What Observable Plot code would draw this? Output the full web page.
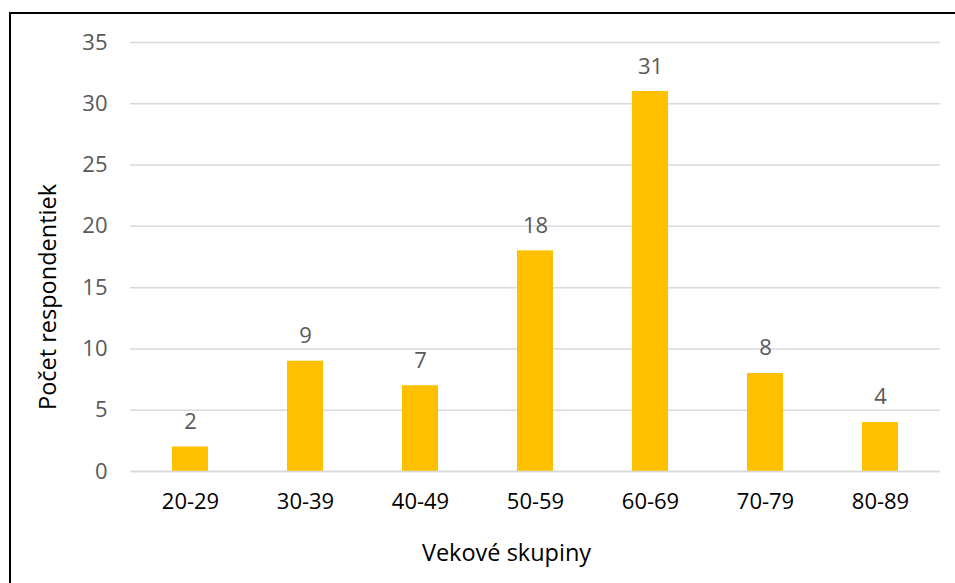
<!DOCTYPE html>
<html>
<head>
<meta charset="utf-8">
<script src="https://cdn.jsdelivr.net/npm/d3@7"></script>
<script src="https://cdn.jsdelivr.net/npm/@observablehq/plot@0.6"></script>
<style>
  html, body { margin: 0; padding: 0; background: #fff; }
  #wrap { position: relative; width: 955px; height: 583px; overflow: hidden; }
  #border { position: absolute; left: 9px; top: 12px; width: 2000px; height: 2000px;
            border-left: 2px solid #000; border-top: 2px solid #000; box-sizing: border-box; }
  #chart { position: absolute; left: 0; top: 0; }
</style>
</head>
<body>
<div id="wrap"><div id="border"></div><div id="chart"></div></div>
<script>
const categories = ["20-29", "30-39", "40-49", "50-59", "60-69", "70-79", "80-89"];
const counts = [2, 9, 7, 18, 31, 8, 4];
const yTicks = [0, 5, 10, 15, 20, 25, 30, 35];
const xTitle = "Vekové skupiny";
const yTitle = "Počet respondentiek";

const data = categories.map((c, i) => ({ group: c, count: counts[i] }));
const font = "'Open Sans', sans-serif";

const chart = Plot.plot({
  width: 955,
  height: 583,
  marginLeft: 130,
  marginRight: 15,
  marginTop: 42,
  marginBottom: 112,
  style: { fontFamily: font, fontSize: "22px", background: "transparent", overflow: "visible" },
  x: { domain: categories, paddingInner: 0.69, paddingOuter: 0.345, label: null },
  y: { domain: [0, 35], ticks: yTicks, label: null },
  marks: [
    Plot.gridY(yTicks, { stroke: "#d9d9d9", strokeOpacity: 1, strokeWidth: 1.5 }),
    Plot.barY(data, { x: "group", y: "count", fill: "#FFC000" }),
    Plot.ruleY([0], { stroke: "#d9d9d9", strokeWidth: 1.5 }),
    Plot.text(data, { x: "group", y: "count", text: d => String(d.count), lineAnchor: "bottom", dy: -18, fill: "#595959", fontSize: 22 }),
    Plot.axisY(yTicks, { tickSize: 0, tickPadding: 23, fill: "#595959", fontSize: 22, label: null }),
    Plot.axisX({ tickSize: 0, tickPadding: 22, fill: "#000", fontSize: 22, label: null }),
    Plot.text([xTitle], { frameAnchor: "bottom", dx: -29, dy: 89, fill: "#000", fontSize: 23.5 }),
    Plot.text([yTitle], { frameAnchor: "left", textAnchor: "middle", rotate: -90, dx: -82, dy: 40, fill: "#000", fontSize: 23.5 })
  ]
});
document.getElementById("chart").appendChild(chart);
</script>
</body>
</html>
